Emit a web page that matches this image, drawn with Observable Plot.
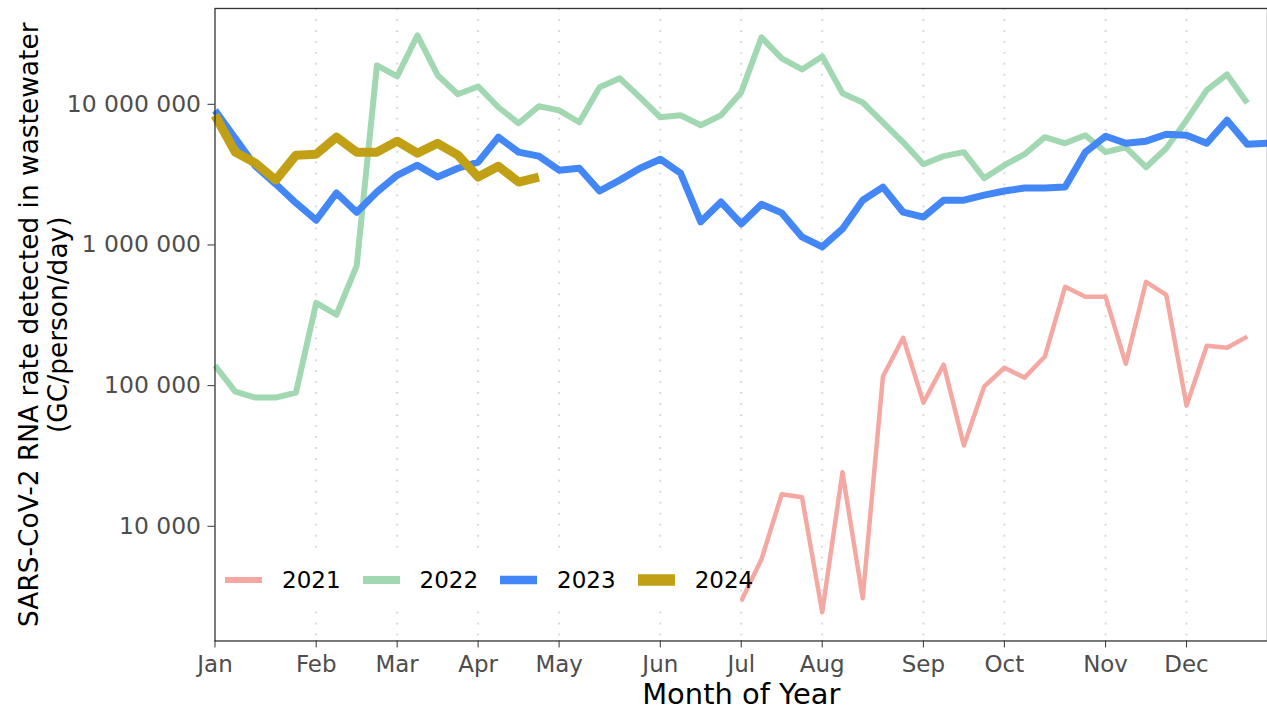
<!DOCTYPE html>
<html>
<head>
<meta charset="utf-8">
<script src="https://cdn.jsdelivr.net/npm/d3@7"></script>
<script src="https://cdn.jsdelivr.net/npm/@observablehq/plot@0.6"></script>
<style>
  html, body { margin: 0; padding: 0; background: #fff; overflow: hidden; }
  #chart { position: relative; width: 1267px; height: 711px; overflow: hidden; font-family: "DejaVu Sans", sans-serif; }
  #legend { position: absolute; left: 218px; top: 556px; height: 48px; padding-left: 7px;
            background: linear-gradient(to right, #fff 0 522px, transparent 522px);
            display: flex; align-items: center; font-size: 23px; color: #000; }
  #legend .key { display: block; margin-right: 20px; }
  #legend .lab { margin-right: 22px; }
  #legend .lab:last-child { margin-right: 0; }
</style>
</head>
<body>
<div id="chart"></div>
<script>
// Weekly SARS-CoV-2 RNA rate in wastewater (GC/person/day), by year
const years = ["2021", "2022", "2023", "2024"];
const firstWeek = [27, 1, 1, 1];
const colors = ["#F5A8A2", "#A2D8B1", "#4287F5", "#C1A016"];
const lineWidths = [4.5, 6, 7, 9];
const keyWidths = [6, 8, 8.5, 11.5];

const rate2021 = [2940, 5830, 16900, 16100, 2450, 24200, 3080, 116000, 219000, 75700,
  141000, 37500, 98400, 134000, 114000, 161000, 504000, 428000, 428000, 143000,
  547000, 442000, 72100, 192000, 186000, 223000];
const rate2022 = [139000, 90600, 82200, 82200, 89200, 388000, 319000, 710000, 18900000, 15800000,
  30900000, 16100000, 11800000, 13400000, 9530000, 7330000, 9680000, 9060000, 7450000, 13200000,
  15300000, 11200000, 8090000, 8360000, 7100000, 8360000, 12200000, 29900000, 21200000, 17700000,
  21900000, 12000000, 10300000, 7450000, 5370000, 3750000, 4280000, 4570000, 2980000, 3690000,
  4420000, 5840000, 5280000, 6030000, 4570000, 4950000, 3570000, 4870000, 7710000, 12600000,
  16300000, 10200000];
const rate2023 = [9060000, 5740000, 3630000, 2710000, 1990000, 1500000, 2340000, 1710000, 2380000, 3130000,
  3690000, 3040000, 3510000, 3880000, 5840000, 4570000, 4280000, 3400000, 3510000, 2420000,
  2890000, 3510000, 4070000, 3240000, 1460000, 2020000, 1410000, 1950000, 1690000, 1140000,
  968000, 1300000, 2080000, 2580000, 1710000, 1580000, 2080000, 2080000, 2260000, 2420000,
  2540000, 2540000, 2580000, 4570000, 5930000, 5280000, 5470000, 6130000, 6030000, 5280000,
  7710000, 5200000, 5280000];
const rate2024 = [8360000, 4570000, 3820000, 2890000, 4350000, 4420000, 5840000, 4570000, 4570000, 5470000,
  4490000, 5280000, 4350000, 3040000, 3630000, 2800000, 3040000];

// Month tick positions (week of year) and labels
const monthWeeks = [1, 6, 10, 14, 18, 23, 27, 31, 36, 40, 45, 49];
const monthLabels = ["Jan", "Feb", "Mar", "Apr", "May", "Jun", "Jul", "Aug", "Sep", "Oct", "Nov", "Dec"];
const yTicks = [10000, 100000, 1000000, 10000000];
const xDomain = [1, 53];
const yDomain = [1530, 48000000];

const seriesValues = [rate2021, rate2022, rate2023, rate2024];
const rows = seriesValues.flatMap((vals, i) =>
  vals.map((v, j) => ({ year: years[i], week: firstWeek[i] + j, value: v })));

const spaced = d => d3.format(",")(d).replace(/,/g, " ");

const plot = Plot.plot({
  width: 1270,
  height: 711,
  marginLeft: 215,
  marginRight: 0,
  marginTop: 8,
  marginBottom: 69,
  style: { fontFamily: "DejaVu Sans, sans-serif", background: "#fff", overflow: "visible" },
  x: { domain: xDomain },
  y: { type: "log", domain: yDomain },
  color: { domain: years, range: colors },
  marks: [
    Plot.ruleX(monthWeeks.slice(1), { stroke: "#d9d9d9", strokeWidth: 2, strokeDasharray: "2,9" }),
    ...years.map((yr, i) => Plot.line(rows.filter(r => r.year === yr), {
      x: "week", y: "value", stroke: "year",
      strokeWidth: lineWidths[i], strokeLinecap: "butt", strokeLinejoin: "round"
    })),
    Plot.frame({ stroke: "#333", strokeWidth: 1.3 }),
    Plot.axisX({
      ticks: monthWeeks, tickFormat: d => monthLabels[monthWeeks.indexOf(d)],
      tickSize: 7, tickPadding: 8, fontSize: 23, fill: "#4d4d4d", stroke: "#333", label: null
    }),
    Plot.axisY({
      ticks: yTicks, tickFormat: spaced,
      tickSize: 7, tickPadding: 7, fontSize: 23.5, fill: "#4d4d4d", stroke: "#333", label: null
    }),
    Plot.text(["Month of Year"], {
      text: d => d, frameAnchor: "bottom", dy: 54, fontSize: 29, fill: "#000", lineAnchor: "middle"
    }),
    Plot.text(["SARS-CoV-2 RNA rate detected in wastewater\n(GC/person/day)"], {
      text: d => d, frameAnchor: "left", rotate: -90, dx: -172, fontSize: 26.5, fill: "#000",
      textAnchor: "middle", lineAnchor: "middle", lineHeight: 1.09
    })
  ]
});

const chart = document.getElementById("chart");
chart.appendChild(plot);

// Legend drawn inside the panel, bottom-left
const legend = document.createElement("div");
legend.id = "legend";
years.forEach((yr, i) => {
  const svg = d3.create("svg").attr("class", "key").attr("width", 37).attr("height", 14);
  svg.append("line").attr("x1", 0).attr("x2", 37).attr("y1", 7).attr("y2", 7)
    .attr("stroke", colors[i]).attr("stroke-width", keyWidths[i]);
  legend.appendChild(svg.node());
  const lab = document.createElement("span");
  lab.className = "lab";
  lab.textContent = yr;
  legend.appendChild(lab);
});
chart.appendChild(legend);
</script>
</body>
</html>
